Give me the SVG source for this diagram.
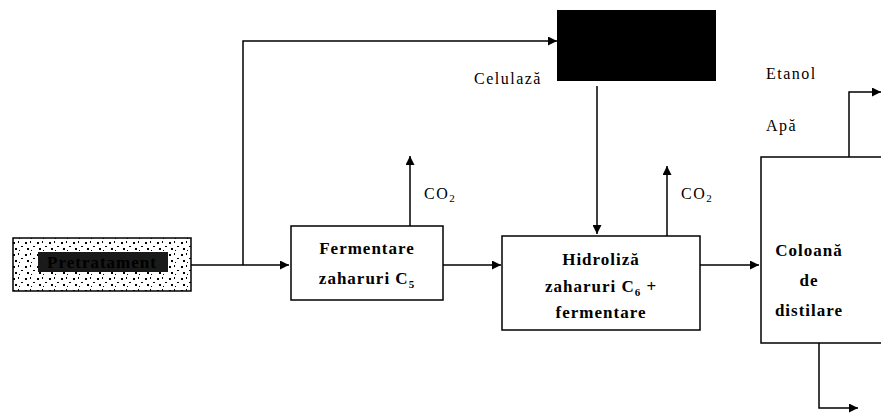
<svg xmlns="http://www.w3.org/2000/svg" width="881" height="414" viewBox="0 0 881 414">
<style>
.box{fill:#fff;stroke:#000;stroke-width:1.5}
.ln{fill:none;stroke:#000;stroke-width:1.5}
.t{font-family:"Liberation Serif","Times New Roman",serif;font-size:16px;letter-spacing:1.5px;fill:#000}
.b{font-family:"Liberation Serif","Times New Roman",serif;font-size:17px;letter-spacing:1px;font-weight:bold;fill:#000;text-anchor:middle}
</style>
<defs>
<marker id="ah" viewBox="0 0 10 10" refX="10" refY="5" markerWidth="9" markerHeight="9" markerUnits="userSpaceOnUse" orient="auto">
<path d="M0,0 L10,5 L0,10 z" fill="#000"/>
</marker>
<pattern id="speck" width="12" height="12" patternUnits="userSpaceOnUse">
<rect width="12" height="12" fill="#fff"/>
<rect x="1" y="2" width="2" height="2" fill="#000"/>
<rect x="6" y="1" width="1" height="2" fill="#000"/>
<rect x="9" y="6" width="2" height="1" fill="#000"/>
<rect x="3" y="8" width="2" height="2" fill="#000"/>
<rect x="7" y="10" width="1" height="1" fill="#000"/>
</pattern>
</defs>
<g id="connectors">
<path class="ln" d="M191,265 H289" marker-end="url(#ah)"/>
<path class="ln" d="M243,265 V41 H557" marker-end="url(#ah)"/>
<path class="ln" d="M597,86 V234" marker-end="url(#ah)"/>
<path class="ln" d="M410,226 V156" marker-end="url(#ah)"/>
<path class="ln" d="M443,265 H501" marker-end="url(#ah)"/>
<path class="ln" d="M667,236 V166" marker-end="url(#ah)"/>
<path class="ln" d="M700,265 H759" marker-end="url(#ah)"/>
<path class="ln" d="M849,157 V92 H881" marker-end="url(#ah)"/>
<path class="ln" d="M819,343 V408 H858" marker-end="url(#ah)"/>
</g>
<g id="pretratament">
<rect x="13" y="238" width="178" height="53" fill="url(#speck)" stroke="#000" stroke-width="1.5"/>
<rect x="38" y="252" width="130" height="20" fill="#1a1a1a"/>
<text class="b" x="102" y="268" fill="#000">Pretratament</text>
</g>
<g id="celulaza">
<rect x="557" y="10" width="159" height="71" fill="#000"/>
<text class="t" x="474" y="84">Celulază</text>
</g>
<g id="fermentare">
<rect class="box" x="291" y="226" width="152" height="74"/>
<text class="b" x="367" y="254">Fermentare</text>
<text class="b" x="367" y="284">zaharuri C<tspan font-size="11" dy="4">5</tspan></text>
</g>
<g id="co2a"><text class="t" x="424" y="199">CO<tspan font-size="11" dy="3">2</tspan></text></g>
<g id="hidroliza">
<rect class="box" x="502" y="236" width="198" height="94"/>
<text class="b" x="601" y="265">Hidroliză</text>
<text class="b" x="601" y="292">zaharuri C<tspan font-size="11" dy="4">6</tspan><tspan dy="-4"> +</tspan></text>
<text class="b" x="601" y="318">fermentare</text>
</g>
<g id="co2b"><text class="t" x="681" y="199">CO<tspan font-size="11" dy="3">2</tspan></text></g>
<g id="coloana">
<rect class="box" x="761" y="157" width="130" height="186"/>
<text class="b" x="809" y="256">Coloană</text>
<text class="b" x="809" y="286">de</text>
<text class="b" x="809" y="316">distilare</text>
</g>
<g id="labels">
<text class="t" x="766" y="79">Etanol</text>
<text class="t" x="766" y="131">Apă</text>
</g>
</svg>
